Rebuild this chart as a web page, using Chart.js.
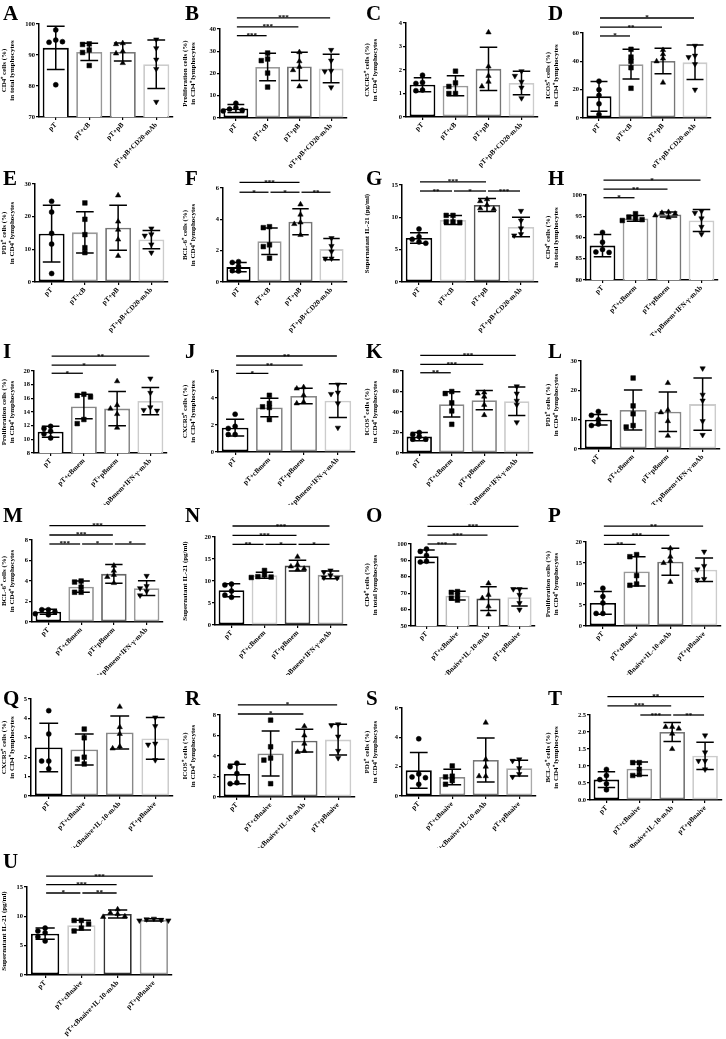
<!DOCTYPE html>
<html>
<head>
<meta charset="utf-8">
<script src="https://cdn.jsdelivr.net/npm/chart.js@4.4.0/dist/chart.umd.min.js"></script>
<style>
  html, body { margin: 0; padding: 0; background: #fff; }
  #fig { position: relative; width: 726px; height: 1039px; overflow: hidden; }
  .lt { position: absolute; font: bold 21px/21px "Liberation Serif", serif; color: #000; }
</style>
</head>
<body>
<div id="fig"></div>
<script>
// ---- categories / axis titles ----
var grpB = ['pT', 'pT+cB', 'pT+pB', 'pT+pB+CD20-mAb'];
var grpMem = ['pT', 'pT+cBmem', 'pT+pBmem', 'pT+pBmem+IFN-γ-mAb'];
var grpNaive = ['pT', 'pT+cBnaive', 'pT+cBnaive+IL-10-mAb', 'pT+pBnaive'];

var ttlCD4 = ['CD4⁺ cells (%)', 'in total lymphocytes'];
var ttlProl = ['Proliferation cells (%)', 'in CD4⁺ lymphocytes'];
var ttlCXCR5 = ['CXCR5⁺ cells (%)', 'in CD4⁺ lymphocytes'];
var ttlICOS = ['ICOS⁺ cells (%)', 'in CD4⁺ lymphocytes'];
var ttlPD1 = ['PD1⁺ cells (%)', 'in CD4⁺ lymphocytes'];
var ttlBCL6 = ['BCL-6⁺ cells (%)', 'in CD4⁺ lymphocytes'];
var ttlIL21 = ['Supernatant IL-21 (pg/ml)'];

// ---- values: mean, SD, individual points, axis [min,max,step], significance [from,to,label,height] ----
var aMean = [92.3, 91.0, 91.0, 87.0], aSd = [7.0, 2.8, 2.9, 7.8];
var aPts = [[98.1, 94.8, 94.1, 94.3, 80.4], [93.6, 93.4, 91.6, 90.8, 86.6], [93.8, 93.5, 91.2, 90.5, 87.4], [95.0, 92.2, 88.5, 85.5, 74.9]];
var aAxis = [70, 100, 10], aSig = [];

var bMean = [4.3, 22.9, 23.2, 22.2], bSd = [1.8, 6.2, 6.3, 6.4];
var bPts = [[6.6, 4.6, 4.0, 3.5, 3.2], [29.2, 26.5, 25.8, 20.2, 13.9], [29.6, 25.5, 23.0, 21.5, 14.2], [30.6, 25.8, 21.2, 21.0, 13.8]];
var bAxis = [0, 40, 10], bSig = [[0, 1, '***', 37], [0, 2, '***', 41], [0, 3, '***', 45]];

var cMean = [1.37, 1.33, 2.05, 1.45], cSd = [0.3, 0.43, 0.92, 0.5];
var cPts = [[1.78, 1.47, 1.43, 1.15, 1.12], [1.95, 1.45, 1.3, 1.0, 1.0], [3.6, 2.15, 1.75, 1.5, 1.3], [1.95, 1.75, 1.5, 1.25, 0.8]];
var cAxis = [0, 4, 1], cSig = [];

var dMean = [15.3, 38.0, 40.3, 39.3], dSd = [10.5, 10.5, 9.0, 12.2];
var dPts = [[26, 20, 16, 10, 2.5], [48.5, 43, 40, 35.5, 21], [48, 45, 42, 40, 25], [51, 44, 43, 38, 20]];
var dAxis = [0, 60, 20], dSig = [[0, 1, '*', 57.9], [0, 2, '**', 64.2], [0, 3, '*', 70.6]];

var eMean = [14.8, 15.2, 16.6, 13.0], eSd = [8.7, 6.3, 6.9, 2.8];
var ePts = [[24.7, 21.4, 14.9, 11.6, 2.6], [24.2, 19.2, 14.5, 10.5, 9.0], [26.5, 18.5, 16.0, 13.0, 8.0], [16.4, 14.6, 14.2, 11.5, 9.0]];
var eAxis = [0, 30, 10], eSig = [];

var fMean = [0.95, 2.6, 3.85, 2.1], fSd = [0.3, 0.85, 0.83, 0.68];
var fPts = [[1.3, 1.25, 1.0, 0.72, 0.7], [3.53, 3.47, 2.37, 2.26, 1.52], [4.95, 4.3, 3.8, 3.7, 3.0], [2.8, 2.3, 1.95, 1.5, 1.5]];
var fAxis = [0, 6, 2], fSig = [[0, 1, '*', 5.73], [1, 2, '*', 5.73], [2, 3, '**', 5.73], [0, 2, '***', 6.36]];

var gMean = [6.8, 9.6, 11.9, 8.5], gSd = [0.8, 0.7, 1.0, 1.5];
var gPts = [[8.2, 7.0, 6.6, 6.2, 6.0], [10.3, 10.3, 9.3, 9.3, 9.2], [12.8, 12.5, 11.9, 11.4, 11.3], [11.0, 9.5, 8.3, 7.4, 7.2]];
var gAxis = [0, 15, 5], gSig = [[0, 1, '**', 14.07], [1, 2, '*', 14.07], [2, 3, '***', 14.07], [0, 2, '***', 15.47]];

var hMean = [88.1, 94.5, 95.4, 94.0], hSd = [2.6, 0.7, 0.6, 2.6];
var hPts = [[91.2, 88.9, 87.2, 86.6, 86.5], [95.6, 94.8, 94.5, 94.2, 94.0], [96.0, 95.8, 95.6, 95.2, 94.7], [96.2, 95.8, 94.5, 92.5, 90.8]];
var hAxis = [80, 100, 5], hSig = [[0, 1, '*', 99.36], [0, 2, '**', 101.4], [0, 3, '*', 103.5]];

var iMean = [11.1, 14.8, 14.5, 15.6], iSd = [0.8, 1.8, 2.5, 2.0];
var iPts = [[11.9, 11.6, 11.2, 10.8, 10.2], [16.6, 16.4, 16.2, 12.9, 12.3], [18.5, 15.0, 14.5, 13.7, 11.7], [18.9, 16.8, 14.7, 14.3, 14.2]];
var iAxis = [8, 20, 2], iSig = [[0, 1, '*', 19.67], [0, 2, '*', 20.87], [0, 3, '**', 22.19]];

var jMean = [1.8, 3.3, 4.15, 3.8], jSd = [0.62, 0.68, 0.58, 1.25];
var jPts = [[2.8, 1.9, 1.75, 1.3, 1.3], [4.2, 3.6, 3.35, 3.3, 2.4], [4.8, 4.7, 4.2, 3.7, 3.6], [5.0, 4.4, 4.3, 3.6, 1.8]];
var jAxis = [0, 6, 2], jSig = [[0, 1, '*', 5.82], [0, 2, '**', 6.44], [0, 3, '**', 7.11]];

var kMean = [16.0, 47.5, 51.5, 50.5], kSd = [4.0, 12.3, 9.4, 14.0];
var kPts = [[20, 18, 16, 13.5, 13.5], [60, 58, 49, 41, 28], [59, 58, 55, 47, 37], [65, 58, 51, 47, 30]];
var kAxis = [0, 80, 20], kSig = [[0, 1, '**', 78.3], [0, 2, '***', 86.5], [0, 3, '***', 95.3]];

var lMean = [10.0, 13.3, 12.7, 15.3], lSd = [1.8, 6.8, 6.7, 8.9];
var lPts = [[12.8, 11.5, 10.0, 8.5, 8.0], [24.2, 14.7, 12.0, 8.0, 7.5], [22.5, 13.3, 12.5, 9.5, 4.5], [27.5, 18.5, 16.5, 9.5, 4.8]];
var lAxis = [0, 30, 10], lSig = [];

var mMean = [1.0, 3.45, 4.7, 3.3], mSd = [0.25, 0.55, 0.92, 0.72];
var mPts = [[1.2, 1.2, 1.0, 0.8, 0.7], [4.0, 3.9, 3.4, 2.9, 2.9], [5.5, 5.0, 4.6, 4.4, 3.8], [4.5, 3.5, 3.3, 3.0, 2.6]];
var mAxis = [0, 8, 2], mSig = [[0, 1, '***', 7.61], [1, 2, '*', 7.61], [2, 3, '*', 7.61], [0, 2, '***', 8.49], [0, 3, '***', 9.4]];

var nMean = [7.9, 11.3, 13.5, 11.4], nSd = [1.5, 0.7, 1.2, 0.9];
var nPts = [[9.3, 9.1, 7.7, 6.8, 6.3], [12.4, 11.4, 11.0, 10.9, 10.8], [15.5, 13.7, 13.3, 12.8, 12.6], [12.4, 12.0, 11.3, 10.8, 10.7]];
var nAxis = [0, 20, 5], nSig = [[0, 1, '**', 18.33], [1, 2, '*', 18.33], [2, 3, '*', 18.33], [0, 2, '***', 20.39], [0, 3, '***', 22.5]];

var oMean = [92.5, 68.5, 66.7, 67.5], oSd = [3.8, 2.7, 7.3, 5.3];
var oPts = [[97, 95.5, 93, 89.5, 89], [71, 70.5, 68.5, 67, 65.8], [76, 69, 67, 62, 57], [72.5, 72.5, 69, 64, 60]];
var oAxis = [50, 100, 10], oSig = [[0, 1, '***', 100], [0, 2, '***', 105.4], [0, 3, '***', 110.7]];

var pMean = [5.5, 13.0, 15.3, 13.4], pSd = [2.7, 3.5, 3.2, 2.8];
var pPts = [[9.0, 7.0, 5.5, 3.0, 3.0], [17.0, 16.5, 12.0, 10.0, 9.7], [18.5, 16.5, 15.5, 15.0, 10.5], [17.7, 14.3, 13.5, 11.2, 11.0]];
var pAxis = [0, 20, 5], pSig = [[0, 1, '**', 19.45], [0, 2, '***', 21.6], [0, 3, '**', 23.8]];

var qMean = [2.5, 2.4, 3.27, 2.97], qSd = [1.25, 0.8, 0.85, 1.07];
var qPts = [[4.4, 3.2, 1.8, 1.8, 1.4], [3.45, 3.0, 2.0, 1.9, 1.65], [4.6, 3.55, 3.2, 2.55, 2.45], [4.05, 3.6, 2.7, 2.65, 1.85]];
var qAxis = [0, 5, 1], qSig = [];

var rMean = [2.25, 4.25, 5.5, 5.6], rSd = [0.95, 2.2, 1.1, 1.5];
var rPts = [[3.3, 2.95, 2.3, 1.4, 1.3], [7.5, 4.9, 3.8, 3.6, 1.3], [6.9, 6.0, 5.2, 4.5, 4.4], [7.1, 7.0, 5.9, 4.5, 3.8]];
var rAxis = [0, 8, 2], rSig = [[0, 2, '*', 8.1], [0, 3, '*', 8.98]];

var sMean = [1.75, 1.3, 2.45, 1.9], sSd = [1.22, 0.53, 1.5, 0.53];
var sPts = [[3.9, 1.5, 1.3, 1.25, 0.8], [2.05, 1.35, 1.3, 1.05, 0.8], [5.0, 2.5, 2.0, 1.35, 1.35], [2.5, 2.4, 1.9, 1.5, 1.3]];
var sAxis = [0, 6, 2], sSig = [];

var tMean = [0.6, 0.92, 2.0, 1.3], tSd = [0.23, 0.2, 0.28, 0.4];
var tPts = [[0.9, 0.72, 0.6, 0.48, 0.3], [1.1, 1.1, 0.9, 0.75, 0.72], [2.15, 2.15, 2.1, 1.95, 1.5], [1.9, 1.4, 1.15, 1.15, 0.9]];
var tAxis = [0, 2.5, 0.5], tSig = [[1, 2, '***', 2.5], [2, 3, '**', 2.5], [0, 2, '***', 2.77], [0, 3, '**', 3.04]];

var uMean = [7.05, 8.5, 10.4, 9.4], uSd = [0.95, 0.85, 0.7, 0.2];
var uPts = [[8.0, 7.5, 7.2, 6.5, 5.8], [9.3, 9.3, 8.7, 8.0, 7.5], [11.2, 10.6, 10.4, 10.0, 9.9], [9.6, 9.5, 9.4, 9.3, 9.3]];
var uAxis = [0, 15, 5], uSig = [[0, 1, '*', 13.98], [1, 2, '**', 13.98], [0, 2, '***', 15.4], [0, 3, '***', 16.87]];

// ---- layout ----
var rowTop = [0, 168, 336, 505, 675, 848, 1039];
var colLeft = [0, 181, 363, 544, 726];
var serif = '"Liberation Serif", "Times New Roman", serif';
var palA = ['#000', '#999', '#777', '#ccc'];
var palB = ['#000', '#888', '#888', '#ccc'];
var marks = ['circle', 'rect', 'triangle', 'triangle'];
var markSize = [2.5, 3.3, 3.1, 3.1];

var panels = [
  { id: 'A', mean: aMean, sd: aSd, pts: aPts, axis: aAxis, sig: aSig, cats: grpB, title: ttlCD4, col: 0, row: 0, l: 39, t: 24, b: 117, r: 173, pal: palA },
  { id: 'B', mean: bMean, sd: bSd, pts: bPts, axis: bAxis, sig: bSig, cats: grpB, title: ttlProl, col: 1, row: 0, l: 220, t: 29, b: 118, r: 347, pal: palA },
  { id: 'C', mean: cMean, sd: cSd, pts: cPts, axis: cAxis, sig: cSig, cats: grpB, title: ttlCXCR5, col: 2, row: 0, l: 406, t: 23, b: 117, r: 538, pal: palA },
  { id: 'D', mean: dMean, sd: dSd, pts: dPts, axis: dAxis, sig: dSig, cats: grpB, title: ttlICOS, col: 3, row: 0, l: 583, t: 33, b: 118, r: 711, pal: palA },
  { id: 'E', mean: eMean, sd: eSd, pts: ePts, axis: eAxis, sig: eSig, cats: grpB, title: ttlPD1, col: 0, row: 1, l: 35, t: 184, b: 282, r: 168, pal: palA },
  { id: 'F', mean: fMean, sd: fSd, pts: fPts, axis: fAxis, sig: fSig, cats: grpB, title: ttlBCL6, col: 1, row: 1, l: 223, t: 188, b: 282, r: 347, pal: palA },
  { id: 'G', mean: gMean, sd: gSd, pts: gPts, axis: gAxis, sig: gSig, cats: grpB, title: ttlIL21, col: 2, row: 1, l: 402, t: 185, b: 282, r: 538, pal: ['#000', '#ccc', '#555', '#ccc'] },
  { id: 'H', mean: hMean, sd: hSd, pts: hPts, axis: hAxis, sig: hSig, cats: grpMem, title: ttlCD4, col: 3, row: 1, l: 586, t: 195, b: 280, r: 718, pal: palA },
  { id: 'I', mean: iMean, sd: iSd, pts: iPts, axis: iAxis, sig: iSig, cats: grpMem, title: ttlProl, col: 0, row: 2, l: 34, t: 371, b: 453, r: 167, pal: palB },
  { id: 'J', mean: jMean, sd: jSd, pts: jPts, axis: jAxis, sig: jSig, cats: grpMem, title: ttlCXCR5, col: 1, row: 2, l: 218, t: 371, b: 452, r: 355, pal: palB },
  { id: 'K', mean: kMean, sd: kSd, pts: kPts, axis: kAxis, sig: kSig, cats: grpMem, title: ttlICOS, col: 2, row: 2, l: 403, t: 371, b: 453, r: 533, pal: palB },
  { id: 'L', mean: lMean, sd: lSd, pts: lPts, axis: lAxis, sig: lSig, cats: grpMem, title: ttlPD1, col: 3, row: 2, l: 581, t: 361, b: 449, r: 720, pal: palB },
  { id: 'M', mean: mMean, sd: mSd, pts: mPts, axis: mAxis, sig: mSig, cats: grpMem, title: ttlBCL6, col: 0, row: 3, l: 32, t: 540, b: 622, r: 163, pal: ['#000', '#999', '#666', '#999'] },
  { id: 'N', mean: nMean, sd: nSd, pts: nPts, axis: nAxis, sig: nSig, cats: grpMem, title: ttlIL21, col: 1, row: 3, l: 215, t: 537, b: 625, r: 347, pal: ['#000', '#ccc', '#444', '#999'] },
  { id: 'O', mean: oMean, sd: oSd, pts: oPts, axis: oAxis, sig: oSig, cats: grpNaive, title: ttlCD4, col: 2, row: 3, l: 411, t: 544, b: 626, r: 535, pal: ['#000', '#bbb', '#444', '#ccc'] },
  { id: 'P', mean: pMean, sd: pSd, pts: pPts, axis: pAxis, sig: pSig, cats: grpNaive, title: ttlProl, col: 3, row: 3, l: 586, t: 542, b: 626, r: 721, pal: palA },
  { id: 'Q', mean: qMean, sd: qSd, pts: qPts, axis: qAxis, sig: qSig, cats: grpNaive, title: ttlCXCR5, col: 0, row: 4, l: 31, t: 699, b: 796, r: 173, pal: palB },
  { id: 'R', mean: rMean, sd: rSd, pts: rPts, axis: rAxis, sig: rSig, cats: grpNaive, title: ttlICOS, col: 1, row: 4, l: 220, t: 715, b: 797, r: 355, pal: ['#000', '#888', '#666', '#ccc'] },
  { id: 'S', mean: sMean, sd: sSd, pts: sPts, axis: sAxis, sig: sSig, cats: grpNaive, title: ttlPD1, col: 2, row: 4, l: 402, t: 708, b: 796, r: 536, pal: ['#000', '#888', '#777', '#aaa'] },
  { id: 'T', mean: tMean, sd: tSd, pts: tPts, axis: tAxis, sig: tSig, cats: grpNaive, title: ttlBCL6, col: 3, row: 4, l: 590, t: 715, b: 800, r: 723, pal: palA },
  { id: 'U', mean: uMean, sd: uSd, pts: uPts, axis: uAxis, sig: uSig, cats: grpNaive, title: ttlIL21, col: 0, row: 5, l: 27, t: 887, b: 975, r: 172, pal: ['#000', '#ccc', '#333', '#999'] }
];
var letterTop = [3, 168, 341, 505, 688, 851];
var letterLeft = [3, 185, 366, 548];

// spread overlapping points sideways (scatter-dot style)
function spread(vals, tol) {
  var placed = [];
  return vals.map(function(v) {
    var tries = [0, -0.2, 0.2, -0.4, 0.4];
    for (var k = 0; k < tries.length; k++) {
      var dx = tries[k];
      var clash = placed.some(function(p) {
        return Math.abs(p.y - v) < tol && Math.abs(p.x - dx) < 0.15;
      });
      if (!clash) { placed.push({ x: dx, y: v }); return dx; }
    }
    return 0;
  });
}

// error bars + significance brackets
var errorBars = {
  id: 'errorBars',
  afterDatasetsDraw: function(chart) {
    var o = chart.options.plugins.errorBars;
    var meta = chart.getDatasetMeta(0);
    var ys = chart.scales.y;
    var ctx = chart.ctx;
    ctx.save();
    ctx.strokeStyle = '#000';
    ctx.lineWidth = 1.5;
    meta.data.forEach(function(bar, i) {
      var top = ys.getPixelForValue(o.mean[i] + o.sd[i]);
      var bot = ys.getPixelForValue(o.mean[i] - o.sd[i]);
      var half = bar.width * 0.34;
      ctx.beginPath();
      ctx.moveTo(bar.x, top); ctx.lineTo(bar.x, bot);
      ctx.moveTo(bar.x - half, top); ctx.lineTo(bar.x + half, top);
      ctx.moveTo(bar.x - half, bot); ctx.lineTo(bar.x + half, bot);
      ctx.stroke();
    });
    ctx.lineWidth = 1.3;
    ctx.fillStyle = '#000';
    ctx.font = 'bold 7px ' + serif;
    ctx.textAlign = 'center';
    ctx.textBaseline = 'alphabetic';
    o.sig.forEach(function(s) {
      var x1 = meta.data[s[0]].x + 1, x2 = meta.data[s[1]].x - 1;
      var y = ys.getPixelForValue(s[3]);
      ctx.beginPath();
      ctx.moveTo(x1, y); ctx.lineTo(x2, y);
      ctx.stroke();
      ctx.fillText(s[2], (x1 + x2) / 2, y + 1.5);
    });
    ctx.restore();
  }
};

var fig = document.getElementById('fig');

panels.forEach(function(p) {
  var x0 = colLeft[p.col], y0 = rowTop[p.row];
  var w = colLeft[p.col + 1] - x0, h = rowTop[p.row + 1] - y0;
  var cv = document.createElement('canvas');
  cv.width = w; cv.height = h;
  cv.style.cssText = 'position:absolute;left:' + x0 + 'px;top:' + y0 + 'px;width:' + w + 'px;height:' + h + 'px';
  fig.appendChild(cv);

  var tol = (p.axis[1] - p.axis[0]) * 0.05;
  var datasets = [{
    type: 'bar', data: p.mean, order: 2, grouped: false,
    backgroundColor: '#fff', borderColor: p.pal, borderWidth: 1.8, borderSkipped: false,
    barPercentage: 0.78, categoryPercentage: 1
  }];
  p.pts.forEach(function(vals, i) {
    var dx = spread(vals, tol);
    datasets.push({
      type: 'scatter', xAxisID: 'xp', yAxisID: 'y', order: 1,
      data: vals.map(function(v, k) { return { x: i + dx[k], y: v }; }),
      pointStyle: marks[i], rotation: i === 3 ? 180 : 0,
      pointRadius: markSize[i], backgroundColor: '#000', borderColor: '#000', borderWidth: 0.5
    });
  });

  var step = p.axis[2];
  new Chart(cv, {
    type: 'bar',
    data: { labels: p.cats, datasets: datasets },
    options: {
      responsive: false,
      animation: false,
      events: [],
      layout: { padding: { top: p.t - y0, right: w - (p.r - x0), left: 0, bottom: 0 } },
      plugins: {
        legend: { display: false },
        tooltip: { enabled: false },
        errorBars: { mean: p.mean, sd: p.sd, sig: p.sig }
      },
      scales: {
        x: {
          type: 'category', offset: true,
          afterFit: function(s) { s.height = h - (p.b - y0); },
          border: { color: '#000', width: 1.5 },
          grid: { drawOnChartArea: false, offset: false, color: '#000', lineWidth: 1.2, tickLength: 3 },
          ticks: { autoSkip: false, minRotation: 45, maxRotation: 45, padding: 1, color: '#000',
                   font: { family: serif, size: 7, weight: 'bold' } }
        },
        xp: { type: 'linear', display: false, offset: false, grid: { offset: false }, min: -0.5, max: 3.5 },
        y: {
          min: p.axis[0], max: p.axis[1],
          afterFit: function(s) { s.width = p.l - x0; },
          border: { color: '#000', width: 1.5 },
          grid: { drawOnChartArea: false, color: '#000', lineWidth: 1.2, tickLength: 3 },
          ticks: { stepSize: step, padding: 1, color: '#000',
                   font: { family: serif, size: 6.5, weight: 'bold' },
                   callback: function(v) { return step < 1 ? v.toFixed(1) : v; } },
          title: { display: true, text: p.title, color: '#000', padding: { top: 0, bottom: 2 },
                   font: { family: serif, size: 7, weight: 'bold' } }
        }
      }
    },
    plugins: [errorBars]
  });

  var lt = document.createElement('div');
  lt.className = 'lt';
  lt.textContent = p.id;
  lt.style.left = letterLeft[p.col] + 'px';
  lt.style.top = letterTop[p.row] + 'px';
  fig.appendChild(lt);
});
</script>
</body>
</html>
